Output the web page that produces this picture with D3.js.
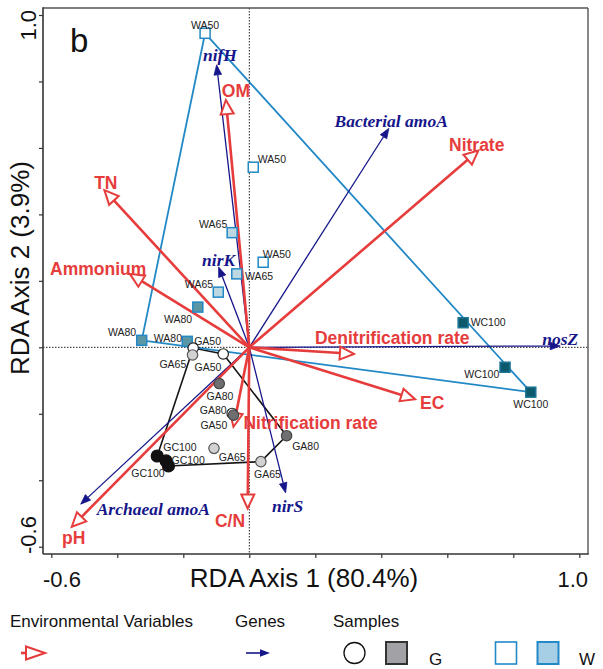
<!DOCTYPE html>
<html>
<head>
<meta charset="utf-8">
<script src="https://cdn.jsdelivr.net/npm/d3@7"></script>
<style>
  html, body { margin: 0; padding: 0; background: #fff; }
  svg { display: block; }
</style>
</head>
<body>
<svg id="chart" width="603" height="669"></svg>
<script>
// ---- RDA scores ----------------------------------------------------------
// Environmental variables (biplot arrows)
const envNames = ["OM", "TN", "Ammonium", "Nitrate", "Denitrification rate", "EC", "Nitrification rate", "C/N", "pH"];
const envAxis1 = [-0.071, -0.439, -0.362, 0.694, 0.317, 0.502, -0.048, -0.005, -0.538];
const envAxis2 = [0.744, 0.473, 0.221, 0.592, -0.020, -0.156, -0.239, -0.485, -0.540];

// Genes (response arrows)
const geneNames = ["nifH", "Bacterial amoA", "nirK", "nosZ", "nirS", "Archaeal amoA"];
const geneAxis1 = [-0.099, 0.423, -0.093, 0.942, 0.110, -0.511];
const geneAxis2 = [0.850, 0.659, 0.242, 0.004, -0.438, -0.472];

// Samples
const sampleNames = ["WA50", "WA50", "WA50", "WA65", "WA65", "WA65", "WA80", "WA80", "WA80", "WC100", "WC100", "WC100",
                     "GA50", "GA50", "GA50", "GA65", "GA65", "GA65", "GA80", "GA80", "GA80", "GC100", "GC100", "GC100"];
const sampleGroup = ["W", "W", "W", "W", "W", "W", "W", "W", "W", "W", "W", "W",
                     "G", "G", "G", "G", "G", "G", "G", "G", "G", "G", "G", "G"];
const sampleAxis1 = [-0.134, 0.012, 0.042, -0.052, -0.038, -0.094, -0.156, -0.326, -0.188, 0.648, 0.775, 0.853,
                     -0.170, -0.079, -0.052, -0.172, -0.107, 0.035, -0.091, -0.048, 0.113, -0.279, -0.252, -0.245];
const sampleAxis2 = [0.945, 0.542, 0.256, 0.345, 0.221, 0.166, 0.121, 0.021, 0.018, 0.074, -0.060, -0.135,
                     -0.002, -0.020, -0.199, -0.023, -0.304, -0.344, -0.109, -0.204, -0.266, -0.327, -0.342, -0.357];

// Axes
const axisTicks = [-0.6, -0.4, -0.2, 0, 0.2, 0.4, 0.6, 0.8, 1.0];
const tickLabels = ["-0.6", "1.0"];
const axis1Title = "RDA Axis 1 (80.4%)";
const axis2Title = "RDA Axis 2 (3.9%)";
const panelLetter = "b";
const legendTitles = ["Environmental Variables", "Genes", "Samples"];
const groupNames = ["G", "W"];

// ---- layout -------------------------------------------------------------
const frame = { left: 43, right: 588, top: 8, bottom: 554 };
const x = d3.scaleLinear().domain([-0.6, 1.0]).range([51.3, 579.3]);
const y = d3.scaleLinear().domain([-0.6, 1.0]).range([546.7, 15]);

const SANS = "'Liberation Sans', Arial, Helvetica, sans-serif";
const SERIF = "'Liberation Serif', 'Times New Roman', serif";
const RED = "#e63c3c";
const NAVY = "#16168a";
const WBLUE = "#2289c6";

// label placement relative to arrow tips: [anchor, dx, dy(baseline)]
const envLabelPos = [
  ["middle", 10, -3], ["middle", 1.4, -1], ["middle", -31.7, 1.5], ["middle", -1.6, 0],
  ["start", -39, -10], ["start", 5, 10], ["start", 10, 2.6], ["middle", -17.7, 18.4], ["middle", 2, 17.3]
];
const geneLabelPos = [
  ["middle", 3.3, -3.7], ["middle", 2.3, -1.6], ["middle", 0, -1], ["middle", 0, -1],
  ["middle", 2, 19.3], ["start", 16, 10.5]
];
// sample label centres relative to the marker
const sampleLabelPos = [
  [0, -8], [18.7, -8], [13.7, -8.3], [-19, -8.7], [22.3, 2], [-19.3, -8], [-19.7, 12], [-19.7, -8.3], [-19.3, -3.3],
  [25, -1], [-23.3, 6.7], [0, 11.7],
  [14.4, -7], [-15.3, 12.7], [-18.3, 11.7], [-19.7, 9], [18.3, 8.4], [6.7, 12.6], [0.7, 12.5], [-20.3, -5], [19, 10.3],
  [22.7, -8.7], [22, -1], [-20.5, 6.7]
];

// marker styles by treatment
const markerStyle = {
  WA50:  { fill: "#ffffff", stroke: WBLUE },
  WA65:  { fill: "#bcd8e3", stroke: WBLUE },
  WA80:  { fill: "#5b96a5", stroke: WBLUE },
  WC100: { fill: "#0d5a6c", stroke: "#1c7596" },
  GA50:  { fill: "#ffffff", stroke: "#222" },
  GA65:  { fill: "#d2d2d2", stroke: "#555" },
  GA80:  { fill: "#6f6f72", stroke: "#444" },
  GC100: { fill: "#111111", stroke: "#111" }
};

const svg = d3.select("#chart");
svg.append("rect").attr("width", 603).attr("height", 669).attr("fill", "#fff");

const samples = sampleNames.map((n, i) => ({
  name: n, group: sampleGroup[i], a1: sampleAxis1[i], a2: sampleAxis2[i], lp: sampleLabelPos[i]
}));

// ---- group hulls ----------------------------------------------------------
const hullColor = { W: WBLUE, G: "#151515" };
groupNames.forEach(g => {
  const pts = samples.filter(s => s.group === g).map(s => [x(s.a1), y(s.a2)]);
  const hull = d3.polygonHull(pts);
  svg.append("path")
    .attr("d", "M" + hull.map(p => p.join(",")).join("L") + "Z")
    .attr("fill", "none")
    .attr("stroke", hullColor[g])
    .attr("stroke-width", g === "W" ? 1.8 : 1.6)
    .attr("stroke-linejoin", "round");
});

// ---- zero lines -------------------------------------------------------------
svg.append("line")
  .attr("x1", frame.left).attr("x2", frame.right).attr("y1", y(0)).attr("y2", y(0))
  .attr("stroke", "#222").attr("stroke-width", 1).attr("stroke-dasharray", "1.5,1.5");
svg.append("line")
  .attr("x1", x(0)).attr("x2", x(0)).attr("y1", frame.top).attr("y2", frame.bottom)
  .attr("stroke", "#222").attr("stroke-width", 1).attr("stroke-dasharray", "1.5,1.5");

// ---- arrows -----------------------------------------------------------------
function headGeometry(x1, y1, x2, y2, len, hw) {
  const dx = x2 - x1, dy = y2 - y1, L = Math.hypot(dx, dy);
  const ux = dx / L, uy = dy / L;
  const bx = x2 - ux * len, by = y2 - uy * len;
  const nx = -uy, ny = ux;
  return { bx, by, tri: [[x2, y2], [bx + nx * hw, by + ny * hw], [bx - nx * hw, by - ny * hw]] };
}
const ox = x(0), oy = y(0);

const geneG = svg.append("g");
geneNames.forEach((n, i) => {
  const tx = x(geneAxis1[i]), ty = y(geneAxis2[i]);
  const h = headGeometry(ox, oy, tx, ty, 10, 3.8);
  geneG.append("line").attr("x1", ox).attr("y1", oy).attr("x2", h.bx).attr("y2", h.by)
    .attr("stroke", NAVY).attr("stroke-width", 1.3);
  geneG.append("path").attr("d", "M" + h.tri.join("L") + "Z").attr("fill", NAVY).attr("stroke", NAVY).attr("stroke-width", 0.8);
});

const envG = svg.append("g");
envNames.forEach((n, i) => {
  const tx = x(envAxis1[i]), ty = y(envAxis2[i]);
  const h = headGeometry(ox, oy, tx, ty, 14, 6.5);
  envG.append("line").attr("x1", ox).attr("y1", oy).attr("x2", h.bx).attr("y2", h.by)
    .attr("stroke", RED).attr("stroke-width", 2.6);
  envG.append("path").attr("d", "M" + h.tri.join("L") + "Z")
    .attr("fill", "#fff").attr("stroke", RED).attr("stroke-width", 2).attr("stroke-linejoin", "miter");
});

// ---- samples ------------------------------------------------------------------
const sampG = svg.append("g");
samples.forEach(s => {
  const cx = x(s.a1), cy = y(s.a2), st = markerStyle[s.name];
  if (s.group === "W") {
    sampG.append("rect").attr("x", cx - 5).attr("y", cy - 5).attr("width", 10).attr("height", 10)
      .attr("fill", st.fill).attr("stroke", st.stroke).attr("stroke-width", 1.5);
  } else {
    sampG.append("circle").attr("cx", cx).attr("cy", cy).attr("r", s.name === "GC100" ? 6 : 5.2)
      .attr("fill", st.fill).attr("stroke", st.stroke).attr("stroke-width", 1.2);
  }
});
samples.forEach(s => {
  sampG.append("text")
    .attr("x", x(s.a1) + s.lp[0]).attr("y", y(s.a2) + s.lp[1])
    .attr("text-anchor", "middle").attr("dominant-baseline", "central")
    .attr("font-family", SANS).attr("font-size", 10.5).attr("fill", "#222")
    .text(s.name);
});

// ---- arrow labels ----------------------------------------------------------------
envNames.forEach((n, i) => {
  const p = envLabelPos[i];
  svg.append("text")
    .attr("x", x(envAxis1[i]) + p[1]).attr("y", y(envAxis2[i]) + p[2])
    .attr("text-anchor", p[0])
    .attr("font-family", SANS).attr("font-weight", "bold").attr("font-size", 17.5)
    .attr("fill", RED).text(n);
});
geneNames.forEach((n, i) => {
  const p = geneLabelPos[i];
  svg.append("text")
    .attr("x", x(geneAxis1[i]) + p[1]).attr("y", y(geneAxis2[i]) + p[2])
    .attr("text-anchor", p[0])
    .attr("font-family", SERIF).attr("font-weight", "bold").attr("font-style", "italic").attr("font-size", 17.5)
    .attr("fill", NAVY).text(n);
});

// ---- frame and axes -----------------------------------------------------------------
svg.append("line").attr("x1", frame.left).attr("x2", frame.right).attr("y1", frame.top).attr("y2", frame.top)
  .attr("stroke", "#555").attr("stroke-width", 1.4);
svg.append("line").attr("x1", frame.right).attr("x2", frame.right).attr("y1", frame.top).attr("y2", frame.bottom)
  .attr("stroke", "#555").attr("stroke-width", 1.4);

const xAxis = d3.axisBottom(x).tickValues(axisTicks).tickSize(4).tickFormat("");
const yAxis = d3.axisLeft(y).tickValues(axisTicks).tickSize(4).tickFormat("");
const gx = svg.append("g").attr("transform", `translate(0,${frame.bottom})`).call(xAxis);
const gy = svg.append("g").attr("transform", `translate(${frame.left},0)`).call(yAxis);
[gx, gy].forEach(g => {
  g.select(".domain").remove();
  g.selectAll(".tick line").attr("stroke", "#333").attr("stroke-width", 1.2);
});
svg.append("line").attr("x1", frame.left).attr("x2", frame.right + 0.7).attr("y1", frame.bottom).attr("y2", frame.bottom)
  .attr("stroke", "#333").attr("stroke-width", 1.6);
svg.append("line").attr("x1", frame.left).attr("x2", frame.left).attr("y1", frame.top - 0.7).attr("y2", frame.bottom)
  .attr("stroke", "#333").attr("stroke-width", 1.6);

// end tick labels, kept inside the frame span
svg.append("text").attr("x", frame.left).attr("y", 587).attr("text-anchor", "start")
  .attr("font-family", SANS).attr("font-size", 22).attr("fill", "#111").text(tickLabels[0]);
svg.append("text").attr("x", frame.right).attr("y", 587).attr("text-anchor", "end")
  .attr("font-family", SANS).attr("font-size", 22).attr("fill", "#111").text(tickLabels[1]);
svg.append("text").attr("transform", `translate(36,${frame.bottom}) rotate(-90)`).attr("text-anchor", "start")
  .attr("font-family", SANS).attr("font-size", 22).attr("fill", "#111").text(tickLabels[0]);
svg.append("text").attr("transform", `translate(36,${frame.top + 2}) rotate(-90)`).attr("text-anchor", "end")
  .attr("font-family", SANS).attr("font-size", 22).attr("fill", "#111").text(tickLabels[1]);

// axis titles
svg.append("text").attr("x", 304).attr("y", 587).attr("text-anchor", "middle")
  .attr("font-family", SANS).attr("font-size", 26).attr("fill", "#111").text(axis1Title);
svg.append("text").attr("transform", `translate(29,268) rotate(-90)`).attr("text-anchor", "middle")
  .attr("font-family", SANS).attr("font-size", 26).attr("fill", "#111").text(axis2Title);

// panel letter
svg.append("text").attr("x", 70).attr("y", 52).attr("font-family", SANS).attr("font-size", 33)
  .attr("fill", "#111").text(panelLetter);

// ---- legend -------------------------------------------------------------------------
const legY = 653;
const lg = svg.append("g").attr("font-family", SANS).attr("fill", "#111");
lg.append("text").attr("x", 10).attr("y", 627).attr("font-size", 17).text(legendTitles[0]);
lg.append("text").attr("x", 235).attr("y", 627).attr("font-size", 17).text(legendTitles[1]);
lg.append("text").attr("x", 333).attr("y", 627).attr("font-size", 17).text(legendTitles[2]);

// environmental variable symbol
{
  const h = headGeometry(21, legY, 45, legY, 19, 6.5);
  lg.append("line").attr("x1", 21).attr("y1", legY).attr("x2", h.bx).attr("y2", legY)
    .attr("stroke", RED).attr("stroke-width", 2.6);
  lg.append("path").attr("d", "M" + h.tri.join("L") + "Z").attr("fill", "#fff")
    .attr("stroke", RED).attr("stroke-width", 2);
}
// gene symbol
{
  const h = headGeometry(246, legY, 270, legY, 10, 3.8);
  lg.append("line").attr("x1", 246).attr("y1", legY).attr("x2", h.bx).attr("y2", legY)
    .attr("stroke", NAVY).attr("stroke-width", 1.6);
  lg.append("path").attr("d", "M" + h.tri.join("L") + "Z").attr("fill", NAVY);
}
// sample symbols
lg.append("circle").attr("cx", 354.5).attr("cy", legY).attr("r", 10.5)
  .attr("fill", "#fff").attr("stroke", "#111").attr("stroke-width", 1.3);
lg.append("rect").attr("x", 386).attr("y", legY - 11).attr("width", 21).attr("height", 22)
  .attr("fill", "#a2a2a6").attr("stroke", "#333").attr("stroke-width", 2);
lg.append("text").attr("x", 429).attr("y", legY + 12).attr("font-size", 17).text(groupNames[0]);
lg.append("rect").attr("x", 495.5).attr("y", legY - 11).attr("width", 21).attr("height", 22)
  .attr("fill", "#fff").attr("stroke", WBLUE).attr("stroke-width", 1.6);
lg.append("rect").attr("x", 537.5).attr("y", legY - 11).attr("width", 21).attr("height", 22)
  .attr("fill", "#a6cfe6").attr("stroke", WBLUE).attr("stroke-width", 2);
lg.append("text").attr("x", 579).attr("y", legY + 12).attr("font-size", 17).text(groupNames[1]);
</script>
</body>
</html>
